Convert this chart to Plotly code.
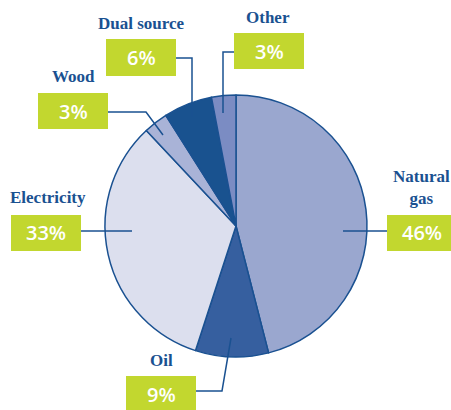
import plotly.graph_objects as go

W, H = 451, 410

categories = ["Natural gas", "Oil", "Electricity", "Wood", "Dual source", "Other"]
shares = [46, 9, 33, 3, 6, 3]
pct_labels = ["46%", "9%", "33%", "3%", "6%", "3%"]
name_labels = ["Natural<br>gas", "Oil", "Electricity", "Wood", "Dual source", "Other"]
slice_colors = ["#9aa7cf", "#365f9f", "#dcdfee", "#a9b3d7", "#19528f", "#7b8cc3"]

DARK = "#1a5191"
GREEN = "#c2d72f"

def px(x):
    return x / W

def py(y):
    return 1 - y / H

cx, cy, r = 236, 226, 131

fig = go.Figure(go.Pie(
    labels=categories,
    values=shares,
    sort=False,
    direction="clockwise",
    rotation=0,
    textinfo="none",
    hoverinfo="skip",
    marker=dict(colors=slice_colors, line=dict(color=DARK, width=1.5)),
    domain=dict(x=[px(cx - r), px(cx + r)], y=[py(cy + r), py(cy - r)]),
))

# label layout: (box x0, y0, x1, y1), name center (x, y), leader polyline
layout_spec = {
    "Natural gas": dict(box=(387, 215, 457, 251), name=(421, 188), leader=[(387, 231), (343, 231)]),
    "Oil": dict(box=(126, 376, 196, 412), name=(161, 360), leader=[(196, 391), (222, 391), (231, 338)]),
    "Electricity": dict(box=(11, 215, 81, 251), name=(48, 197), leader=[(81, 231), (132, 231)]),
    "Wood": dict(box=(38, 93, 108, 129), name=(73, 77), leader=[(108, 112), (146, 112), (163, 135)]),
    "Dual source": dict(box=(106, 39, 176, 76), name=(141, 23), leader=[(176, 58), (192, 58), (192, 117)]),
    "Other": dict(box=(234, 33, 304, 69), name=(268, 17), leader=[(234, 52), (223, 52), (223, 113)]),
}

shapes = []
annotations = []
for cat, pct, nm in zip(categories, pct_labels, name_labels):
    spec = layout_spec[cat]
    x0, y0, x1, y1 = spec["box"]
    pts = spec["leader"]
    path = "M " + " L ".join(f"{px(x)},{py(y)}" for x, y in pts)
    shapes.append(dict(type="path", xref="paper", yref="paper", path=path,
                       line=dict(color=DARK, width=1.5)))
    shapes.append(dict(type="rect", xref="paper", yref="paper",
                       x0=px(x0), x1=px(x1), y0=py(y1), y1=py(y0),
                       fillcolor=GREEN, line=dict(width=0), layer="above"))
    annotations.append(dict(x=px((x0 + x1) / 2), y=py((y0 + y1) / 2), xref="paper", yref="paper",
                            text=pct, showarrow=False, xanchor="center", yanchor="middle",
                            font=dict(family="Open Sans", size=20, color="white", weight=600)))
    nx, ny = spec["name"]
    annotations.append(dict(x=px(nx), y=py(ny), xref="paper", yref="paper",
                            text=nm, showarrow=False, xanchor="center", yanchor="middle",
                            font=dict(family="Liberation Serif", size=17, color=DARK, weight="bold")))

fig.update_layout(
    width=W, height=H,
    margin=dict(l=0, r=0, t=0, b=0),
    paper_bgcolor="white", plot_bgcolor="white",
    showlegend=False,
    shapes=shapes,
    annotations=annotations,
)

fig.write_html("out.html", config={"displayModeBar": False},
               post_script="document.body.style.margin='0';document.body.style.overflow='hidden';")
